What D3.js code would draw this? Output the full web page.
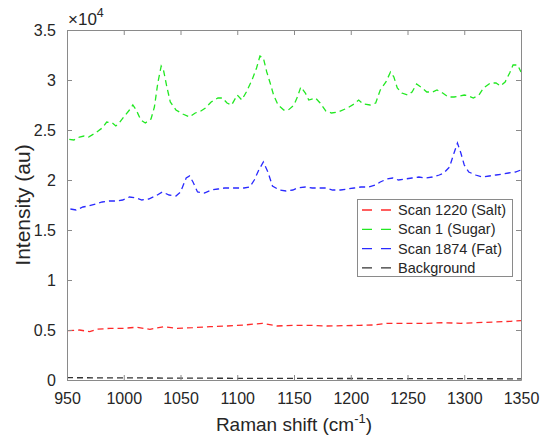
<!DOCTYPE html>
<html>
<head>
<meta charset="utf-8">
<script src="https://cdn.jsdelivr.net/npm/d3@7/dist/d3.min.js"></script>
<style>
  html, body { margin: 0; padding: 0; background: #fff; }
  svg { display: block; font-family: "Liberation Sans", Arial, Helvetica, sans-serif; }
</style>
</head>
<body>
<div id="chart"></div>
<script>
// ---- data ----
const sugarX = [952,956,961,965,969,975,981,985,990,993,996,1000,1005,1008,1011,1015,1019,1024,1027,1030,1033,1035,1038,1041,1046,1052,1058,1063,1068,1072,1077,1083,1087,1091,1095,1100,1104,1108,1113,1117,1120,1123,1126,1129,1132,1136,1141,1145,1150,1153,1156,1160,1163,1169,1173,1178,1183,1189,1197,1203,1207,1211,1217,1222,1226,1231,1235,1238,1241,1245,1250,1254,1258,1263,1267,1272,1276,1281,1286,1291,1296,1300,1304,1308,1313,1317,1323,1328,1332,1336,1340,1343,1347,1350];
const sugarY = [24070,24000,24300,24400,24300,24700,25200,25800,25700,25400,25700,26300,27000,27500,27000,26000,25700,26100,27300,29700,31400,31000,29300,27800,27000,26600,26300,26700,26900,27200,27800,28200,28200,27700,27500,28500,28000,28800,30000,31200,32400,32200,30800,29700,28500,27500,27000,27000,27500,28300,29300,28700,28000,28200,27700,26900,26700,26800,27200,27600,28000,27600,27500,27700,29000,29800,30800,30300,29200,28700,28500,28800,29600,29200,28800,28800,29000,28700,28300,28300,28400,28500,28400,28200,28500,29200,29700,29700,29400,29800,30700,31500,31500,30800];

const fatX = [953,958,964,969,975,981,987,993,999,1005,1011,1016,1022,1028,1034,1040,1046,1050,1055,1058,1061,1065,1071,1077,1083,1089,1094,1100,1106,1111,1115,1119,1123,1127,1131,1137,1143,1149,1153,1160,1166,1172,1178,1184,1191,1197,1203,1209,1216,1222,1226,1232,1237,1242,1248,1254,1260,1266,1272,1278,1282,1287,1291,1294,1297,1300,1304,1310,1316,1322,1328,1334,1339,1345,1350];
const fatY = [17100,17000,17300,17400,17600,17800,17900,17900,18000,18300,18200,18000,18100,18400,18800,18500,18400,18800,20200,20400,19800,18800,18700,19000,19100,19200,19200,19200,19200,19300,20000,21000,21800,20800,19400,19000,18900,19000,19200,19300,19200,19200,19200,19000,19000,19100,19200,19300,19300,19500,19800,20100,20200,20000,20100,20200,20300,20200,20300,20500,20700,21300,22700,23700,22700,21500,20800,20500,20300,20400,20500,20600,20700,20800,21000];

const saltX = [951,961,970,976,988,1000,1011,1023,1035,1047,1061,1076,1091,1106,1122,1135,1150,1164,1179,1194,1208,1220,1232,1253,1267,1282,1297,1311,1326,1341,1350];
const saltY = [4930,5000,4830,5070,5170,5170,5270,5070,5330,5170,5230,5330,5400,5500,5670,5400,5470,5470,5400,5430,5470,5500,5670,5670,5670,5730,5670,5730,5800,5870,5930];

const bgX = [950,1000,1050,1100,1150,1200,1250,1300,1350];
const bgY = [230,210,190,170,160,150,140,130,120];

const seriesNames = ["Scan 1220 (Salt)", "Scan 1 (Sugar)", "Scan 1874 (Fat)", "Background"];
const seriesColors = ["#ff2a2a", "#22e822", "#2a2aff", "#333333"];

const xTicks = [950,1000,1050,1100,1150,1200,1250,1300,1350];
const yTicks = [0,5000,10000,15000,20000,25000,30000,35000];
const yTickLabels = ["0","0.5","1","1.5","2","2.5","3","3.5"];

// ---- layout ----
const W = 545, H = 436;
const m = {left: 67, right: 24, top: 30, bottom: 56};
const svg = d3.select("#chart").append("svg").attr("width", W).attr("height", H);

const x = d3.scaleLinear().domain([950, 1350]).range([m.left, W - m.right]);
const y = d3.scaleLinear().domain([0, 35000]).range([H - m.bottom, m.top]);

const axisColor = "#8a8a8a";
const textColor = "#262626";
const tickLen = 5;

// lines
const series = [
  {xs: saltX, ys: saltY},
  {xs: sugarX, ys: sugarY},
  {xs: fatX, ys: fatY},
  {xs: bgX, ys: bgY}
];
const line = d3.line().x(d => x(d[0])).y(d => y(d[1]));
const drawOrder = [3, 0, 1, 2];
drawOrder.forEach(i => {
  const s = series[i];
  const pts = s.xs.map((v, k) => [v, s.ys[k]]);
  svg.append("path")
    .datum(pts)
    .attr("d", line)
    .attr("fill", "none")
    .attr("stroke", seriesColors[i])
    .attr("stroke-width", 1.3)
    .attr("stroke-dasharray", "6,4");
});

// axes (MATLAB-like box with inward ticks)
const fs = 16;
svg.append("g").attr("transform", `translate(0,${H - m.bottom})`)
  .call(d3.axisBottom(x).tickValues(xTicks).tickFormat(d3.format("d")).tickSizeInner(-tickLen).tickSizeOuter(0).tickPadding(13))
  .call(g => { g.select(".domain").attr("stroke", axisColor);
    g.selectAll(".tick line").attr("stroke", axisColor);
    g.selectAll("text").attr("font-size", fs).attr("fill", textColor); });
svg.append("g").attr("transform", `translate(0,${m.top})`)
  .call(d3.axisTop(x).tickValues(xTicks).tickSizeInner(-tickLen).tickSizeOuter(0).tickFormat(""))
  .call(g => { g.select(".domain").attr("stroke", axisColor);
    g.selectAll(".tick line").attr("stroke", axisColor); });
svg.append("g").attr("transform", `translate(${m.left},0)`)
  .call(d3.axisLeft(y).tickValues(yTicks).tickFormat((d, i) => yTickLabels[i]).tickSizeInner(-tickLen).tickSizeOuter(0).tickPadding(11))
  .call(g => { g.select(".domain").attr("stroke", axisColor);
    g.selectAll(".tick line").attr("stroke", axisColor);
    g.selectAll("text").attr("font-size", fs).attr("fill", textColor); });
svg.append("g").attr("transform", `translate(${W - m.right},0)`)
  .call(d3.axisRight(y).tickValues(yTicks).tickSizeInner(-tickLen).tickSizeOuter(0).tickFormat(""))
  .call(g => { g.select(".domain").attr("stroke", axisColor);
    g.selectAll(".tick line").attr("stroke", axisColor); });

// exponent label
const ex = svg.append("text").attr("x", m.left + 1).attr("y", 25)
  .attr("font-size", 17).attr("fill", textColor);
ex.append("tspan").text("\u00d710");
ex.append("tspan").attr("dy", -8).attr("font-size", 12.5).text("4");

// axis titles
const xl = svg.append("text").attr("x", (m.left + W - m.right) / 2).attr("y", 431)
  .attr("text-anchor", "middle").attr("font-size", 19).attr("fill", textColor);
xl.append("tspan").text("Raman shift (cm");
xl.append("tspan").attr("dy", -8).attr("font-size", 13).text("-1");
xl.append("tspan").attr("dy", 8).text(")");

svg.append("text")
  .attr("transform", `translate(30,${(m.top + H - m.bottom) / 2}) rotate(-90)`)
  .attr("text-anchor", "middle").attr("font-size", 21).attr("fill", textColor)
  .text("Intensity (au)");

// legend
const lg = svg.append("g");
lg.append("rect").attr("x", 357.5).attr("y", 199.5).attr("width", 155).attr("height", 77)
  .attr("fill", "#fff").attr("stroke", axisColor);
seriesNames.forEach((name, i) => {
  const yy = 210 + i * 19.3;
  lg.append("line").attr("x1", 362).attr("x2", 391).attr("y1", yy).attr("y2", yy)
    .attr("stroke", seriesColors[i]).attr("stroke-width", 1.3).attr("stroke-dasharray", "10,9");
  lg.append("text").attr("x", 398).attr("y", yy + 5).attr("font-size", 14.5).attr("fill", textColor).text(name);
});
</script>
</body>
</html>
